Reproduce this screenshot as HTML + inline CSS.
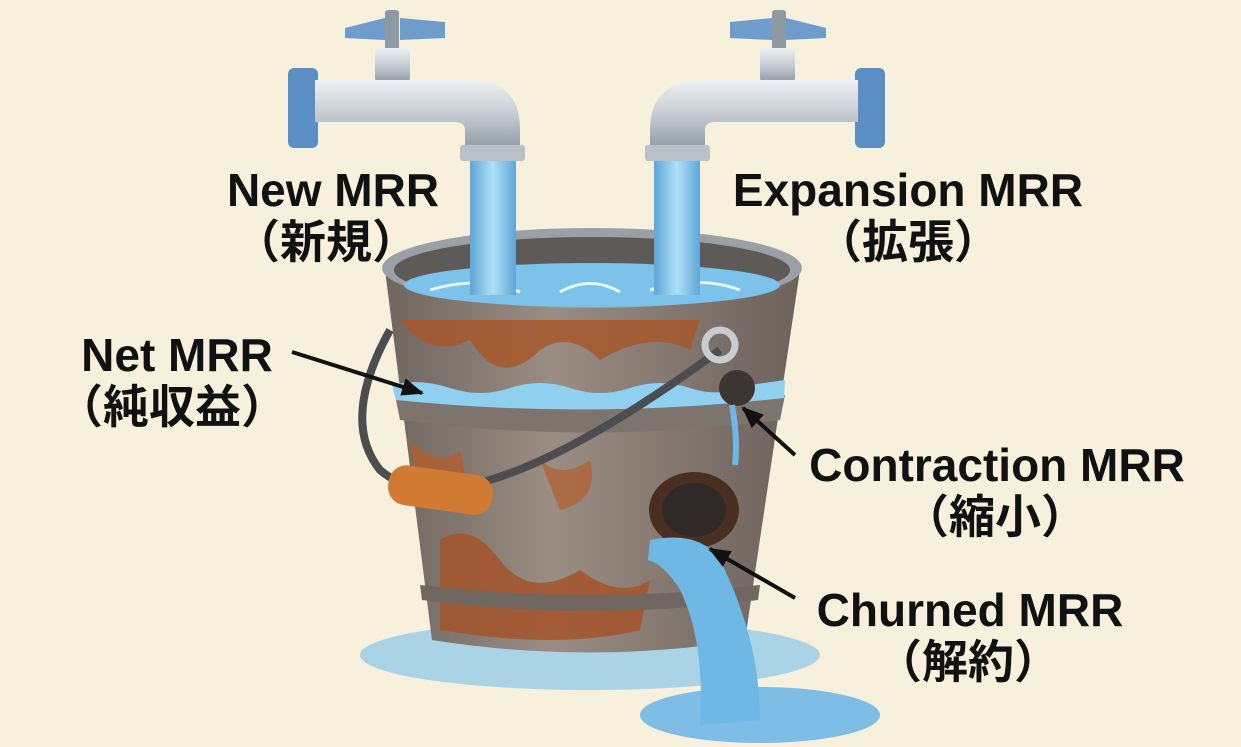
<!DOCTYPE html>
<html><head><meta charset="utf-8"><style>
html,body{margin:0;padding:0;background:#f6f0dc;}
svg{display:block}
text{font-family:"Liberation Sans","Noto Sans CJK JP",sans-serif;fill:#111;font-weight:bold}
</style></head><body>
<svg width="1241" height="747" viewBox="0 0 1241 747" xmlns="http://www.w3.org/2000/svg">
<defs>
<linearGradient id="pipe" x1="0" y1="0" x2="0" y2="1"><stop offset="0" stop-color="#eef1f4"/><stop offset="0.5" stop-color="#c5cbd2"/><stop offset="1" stop-color="#8e98a3"/></linearGradient>
<linearGradient id="bucket" x1="0" y1="0" x2="1" y2="0"><stop offset="0" stop-color="#6f6660"/><stop offset="0.4" stop-color="#9a8d82"/><stop offset="1" stop-color="#6c625c"/></linearGradient>
<linearGradient id="water" x1="0" y1="0" x2="1" y2="0"><stop offset="0" stop-color="#5fa6d8"/><stop offset="0.5" stop-color="#aee0f6"/><stop offset="1" stop-color="#5fa6d8"/></linearGradient>
<marker id="ah" markerUnits="userSpaceOnUse" markerWidth="22" markerHeight="18" refX="20" refY="9" orient="auto"><path d="M0,0 L22,9 L0,18 z" fill="#111"/></marker>
</defs>
<rect width="1241" height="747" fill="#f6f0dc"/>
<ellipse cx="590" cy="655" rx="230" ry="35" fill="#8cc6ea" opacity="0.7"/>
<ellipse cx="760" cy="715" rx="120" ry="28" fill="#7dbde6"/>
<path d="M385,270 L800,270 L745,640 Q590,665 432,640 Z" fill="url(#bucket)"/>
<path d="M400,320 Q430,360 470,340 Q500,390 540,350 Q570,330 600,360 Q650,330 690,350 L700,320 Z" fill="#a8582c" opacity="0.85"/>
<path d="M440,540 Q470,520 500,560 Q530,600 580,570 Q620,600 650,580 L640,630 Q560,650 440,630 Z" fill="#a4532a" opacity="0.85"/>
<path d="M410,440 Q440,470 460,450 L470,500 L420,500 Z" fill="#b35e2c" opacity="0.8"/>
<path d="M540,460 Q560,480 590,460 Q600,500 560,510 Z" fill="#b35e2c" opacity="0.7"/>
<path d="M395,395 Q590,420 785,395 L780,420 Q590,445 400,420 Z" fill="#7d746d"/>
<path d="M420,585 Q590,605 760,585 L758,600 Q590,622 422,600 Z" fill="#6f6760"/>
<path d="M392,385 Q420,378 450,388 T510,388 T570,388 T630,388 T690,388 T750,385 L785,380 L784,398 Q590,420 396,400 Z" fill="#8fd0f0"/>
<ellipse cx="592" cy="268" rx="210" ry="40" fill="#9aa0a6"/>
<ellipse cx="592" cy="270" rx="198" ry="33" fill="#5d5a58"/>
<ellipse cx="592" cy="285" rx="188" ry="22" fill="#7cc2ea"/>
<path d="M430,290 Q480,275 520,292 M560,292 Q590,275 620,292 M650,290 Q700,275 740,290" stroke="#e6f6ff" stroke-width="3" fill="none"/>
<ellipse cx="737" cy="388" rx="18" ry="18" fill="#3c3532"/>
<ellipse cx="694" cy="510" rx="45" ry="38" fill="#4a2e22"/>
<ellipse cx="694" cy="510" rx="32" ry="27" fill="#2f2a28"/>
<path d="M732,405 Q738,440 735,465" stroke="#6fb8e6" stroke-width="6" fill="none"/>
<path d="M650,540 Q700,530 720,560 Q760,640 760,720 L700,725 Q705,640 680,590 Q665,565 648,560 Z" fill="#6fb8e6"/>
<path d="M390,330 Q340,420 380,470 Q460,540 720,350" stroke="#4b4d50" stroke-width="8" fill="none"/>
<circle cx="720" cy="345" r="15" fill="none" stroke="#c9cdd1" stroke-width="7"/>
<rect x="388" y="470" width="105" height="40" rx="18" fill="#d07a34" transform="rotate(8 440 490)"/>
<rect x="470" y="150" width="46" height="145" fill="url(#water)"/>
<rect x="654" y="150" width="46" height="145" fill="url(#water)"/>
<rect x="385" y="10" width="14" height="40" rx="3" fill="#8e99a4"/>
<path d="M345,28 L385,18 L385,40 L345,38 Z M400,18 L445,22 L445,38 L400,40 Z" fill="#6e9ccc"/>
<rect x="375" y="48" width="35" height="35" rx="5" fill="url(#pipe)"/>
<rect x="288" y="68" width="30" height="80" rx="6" fill="#5b8ec5"/>
<path d="M315,80 L470,80 Q520,80 520,130 L520,150 L465,150 L465,130 Q465,122 455,122 L315,122 Z" fill="url(#pipe)"/>
<rect x="460" y="145" width="65" height="16" rx="3" fill="#b9c0c8"/>
<rect x="772" y="10" width="14" height="40" rx="3" fill="#8e99a4"/>
<path d="M730,22 L772,18 L772,40 L730,38 Z M786,18 L826,28 L826,38 L786,40 Z" fill="#6e9ccc"/>
<rect x="760" y="48" width="35" height="35" rx="5" fill="url(#pipe)"/>
<rect x="855" y="68" width="30" height="80" rx="6" fill="#5b8ec5"/>
<path d="M858,80 L705,80 Q650,80 650,130 L650,150 L705,150 L705,130 Q705,122 715,122 L858,122 Z" fill="url(#pipe)"/>
<rect x="645" y="145" width="65" height="16" rx="3" fill="#b9c0c8"/>
<g font-size="46" text-anchor="middle">
<text x="333" y="206">New MRR</text>
<text x="326" y="258">（新規）</text>
<text x="908" y="206">Expansion MRR</text>
<text x="908" y="258">（拡張）</text>
<text x="177" y="371">Net MRR</text>
<text x="172" y="423">（純収益）</text>
<text x="997" y="481">Contraction MRR</text>
<text x="995" y="533">（縮小）</text>
<text x="970" y="626">Churned MRR</text>
<text x="968" y="678">（解約）</text>
</g>
<g stroke="#111" stroke-width="4" marker-end="url(#ah)">
<line x1="292" y1="352" x2="422" y2="393"/>
<line x1="795" y1="455" x2="743" y2="408"/>
<line x1="795" y1="598" x2="710" y2="549"/>
</g>
</svg>
</body></html>
